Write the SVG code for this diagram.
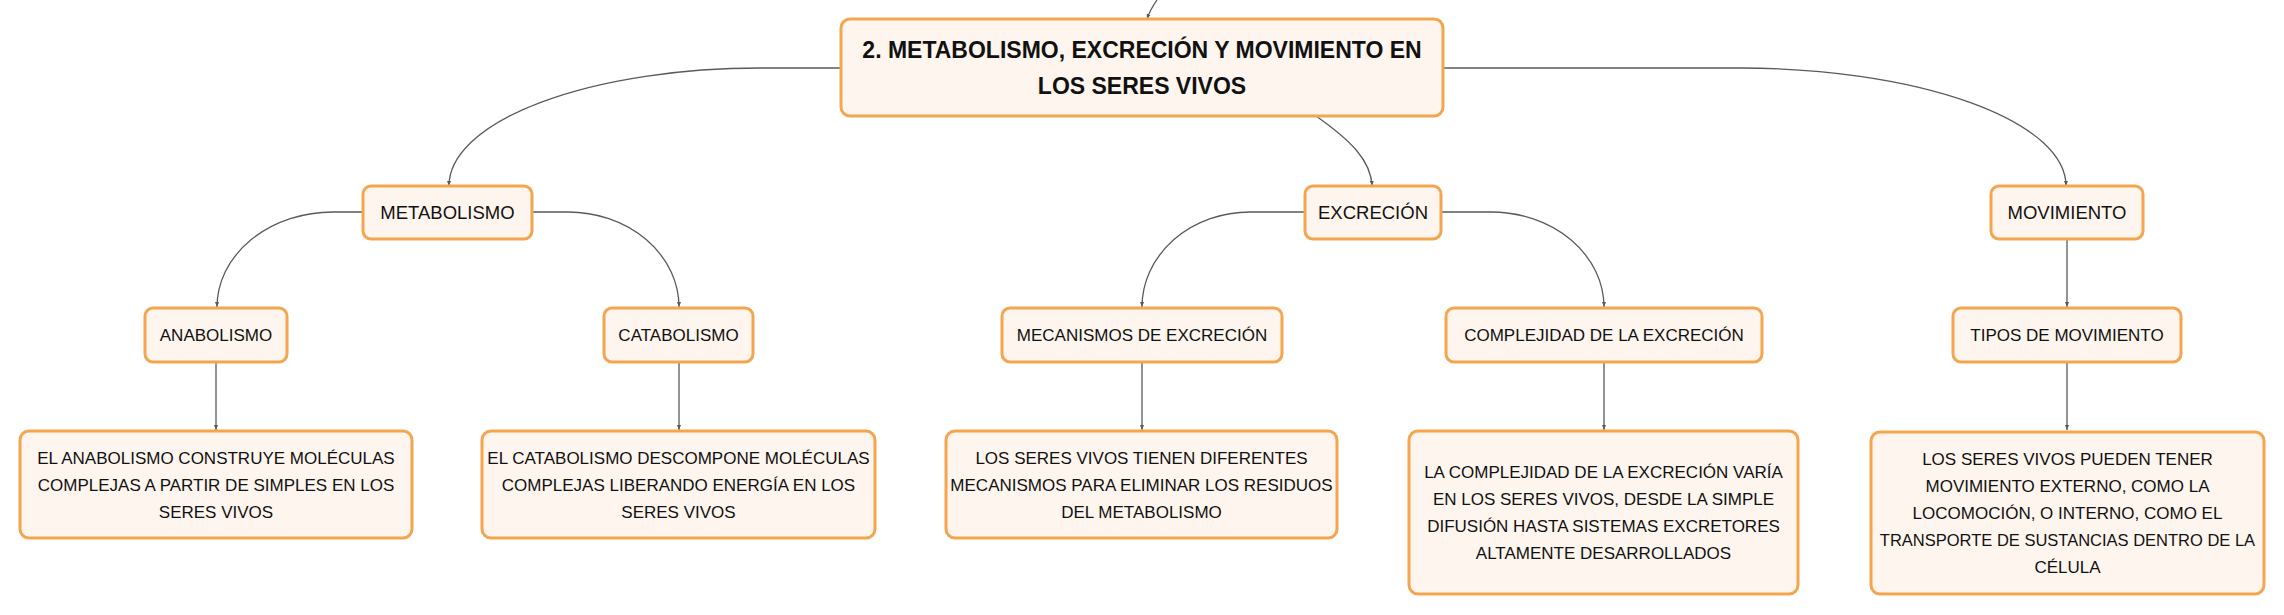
<svg xmlns="http://www.w3.org/2000/svg" width="2284" height="615" viewBox="0 0 2284 615">
<style>
.box{fill:#fdf5ee;stroke:#f3a64f;stroke-width:3}
.t{font-family:"Liberation Sans",Arial,sans-serif;fill:#111;text-anchor:middle}
.title{font-size:23px;font-weight:bold}
.l1{font-size:18.5px}
.l2{font-size:17px}
.d{font-size:17px}
.c{fill:none;stroke:#5a5a5a;stroke-width:1.3;marker-end:url(#ah)}
</style>
<defs>
<marker id="ah" viewBox="0 0 10 10" refX="10" refY="5" markerWidth="5" markerHeight="5" orient="auto" markerUnits="userSpaceOnUse">
<path d="M0,1 L10,5 L0,9 z" fill="#5a5a5a"/>
</marker>
</defs>
<rect width="2284" height="615" fill="#ffffff"/>
<g id="connectors">
<path class="c" d="M1157 0 Q1150 10 1147 19"/>
<path class="c" d="M841 68 H760 A311 118 0 0 0 449 186"/>
<path class="c" d="M1316 116 C1350 140 1371 160 1372 186"/>
<path class="c" d="M1443 68 H1740 A326 118 0 0 1 2066 186"/>
<path class="c" d="M363 212 H333 A116 95 0 0 0 217 307"/>
<path class="c" d="M532 212 H568 A111 95 0 0 1 679 307"/>
<path class="c" d="M1305 212 H1250 A108 95 0 0 0 1142 307"/>
<path class="c" d="M1441 212 H1491 A113 95 0 0 1 1604 307"/>
<path class="c" d="M2067 239 V307"/>
<path class="c" d="M216 362 V430"/>
<path class="c" d="M679 362 V430"/>
<path class="c" d="M1142 362 V430"/>
<path class="c" d="M1604 362 V430"/>
<path class="c" d="M2067 362 V430"/>
</g>
<g id="main">
<rect class="box" x="841" y="19" width="602" height="97" rx="9"/>
<text class="t title" x="1142" y="58">2. METABOLISMO, EXCRECIÓN Y MOVIMIENTO EN</text>
<text class="t title" x="1142" y="94">LOS SERES VIVOS</text>
</g>
<g id="metabolismo">
<rect class="box" x="363" y="186" width="169" height="53" rx="8"/>
<text class="t l1" x="447.5" y="219">METABOLISMO</text>
</g>
<g id="excrecion">
<rect class="box" x="1305" y="186" width="136" height="53" rx="8"/>
<text class="t l1" x="1373" y="219">EXCRECIÓN</text>
</g>
<g id="movimiento">
<rect class="box" x="1991" y="186" width="152" height="53" rx="8"/>
<text class="t l1" x="2067" y="219">MOVIMIENTO</text>
</g>
<g id="anabolismo">
<rect class="box" x="145" y="308" width="142" height="54" rx="8"/>
<text class="t l2" x="216" y="341">ANABOLISMO</text>
</g>
<g id="catabolismo">
<rect class="box" x="604" y="308" width="149" height="54" rx="8"/>
<text class="t l2" x="678.5" y="341">CATABOLISMO</text>
</g>
<g id="mecanismos">
<rect class="box" x="1002" y="308" width="280" height="54" rx="8"/>
<text class="t l2" x="1142" y="341">MECANISMOS DE EXCRECIÓN</text>
</g>
<g id="complejidad">
<rect class="box" x="1446" y="308" width="316" height="54" rx="8"/>
<text class="t l2" x="1604" y="341">COMPLEJIDAD DE LA EXCRECIÓN</text>
</g>
<g id="tipos">
<rect class="box" x="1953" y="308" width="228" height="54" rx="8"/>
<text class="t l2" x="2067" y="341">TIPOS DE MOVIMIENTO</text>
</g>
<g id="anabolismo-desc">
<rect class="box" x="20" y="431" width="392" height="107" rx="9"/>
<text class="t d" x="216" y="464">EL ANABOLISMO CONSTRUYE MOLÉCULAS</text>
<text class="t d" x="216" y="491">COMPLEJAS A PARTIR DE SIMPLES EN LOS</text>
<text class="t d" x="216" y="518">SERES VIVOS</text>
</g>
<g id="catabolismo-desc">
<rect class="box" x="482" y="431" width="393" height="107" rx="9"/>
<text class="t d" x="678.5" y="464">EL CATABOLISMO DESCOMPONE MOLÉCULAS</text>
<text class="t d" x="678.5" y="491">COMPLEJAS LIBERANDO ENERGÍA EN LOS</text>
<text class="t d" x="678.5" y="518">SERES VIVOS</text>
</g>
<g id="mecanismos-desc">
<rect class="box" x="946" y="431" width="391" height="107" rx="9"/>
<text class="t d" x="1141.5" y="464">LOS SERES VIVOS TIENEN DIFERENTES</text>
<text class="t d" x="1141.5" y="491">MECANISMOS PARA ELIMINAR LOS RESIDUOS</text>
<text class="t d" x="1141.5" y="518">DEL METABOLISMO</text>
</g>
<g id="complejidad-desc">
<rect class="box" x="1409" y="431" width="389" height="163" rx="9"/>
<text class="t d" x="1603.5" y="478">LA COMPLEJIDAD DE LA EXCRECIÓN VARÍA</text>
<text class="t d" x="1603.5" y="505">EN LOS SERES VIVOS, DESDE LA SIMPLE</text>
<text class="t d" x="1603.5" y="532">DIFUSIÓN HASTA SISTEMAS EXCRETORES</text>
<text class="t d" x="1603.5" y="559">ALTAMENTE DESARROLLADOS</text>
</g>
<g id="tipos-desc">
<rect class="box" x="1871" y="432" width="393" height="162" rx="9"/>
<text class="t d" x="2067.5" y="465">LOS SERES VIVOS PUEDEN TENER</text>
<text class="t d" x="2067.5" y="492">MOVIMIENTO EXTERNO, COMO LA</text>
<text class="t d" x="2067.5" y="519">LOCOMOCIÓN, O INTERNO, COMO EL</text>
<text class="t d" x="2067.5" y="546" style="font-size:16.5px">TRANSPORTE DE SUSTANCIAS DENTRO DE LA</text>
<text class="t d" x="2067.5" y="573">CÉLULA</text>
</g>
</svg>
